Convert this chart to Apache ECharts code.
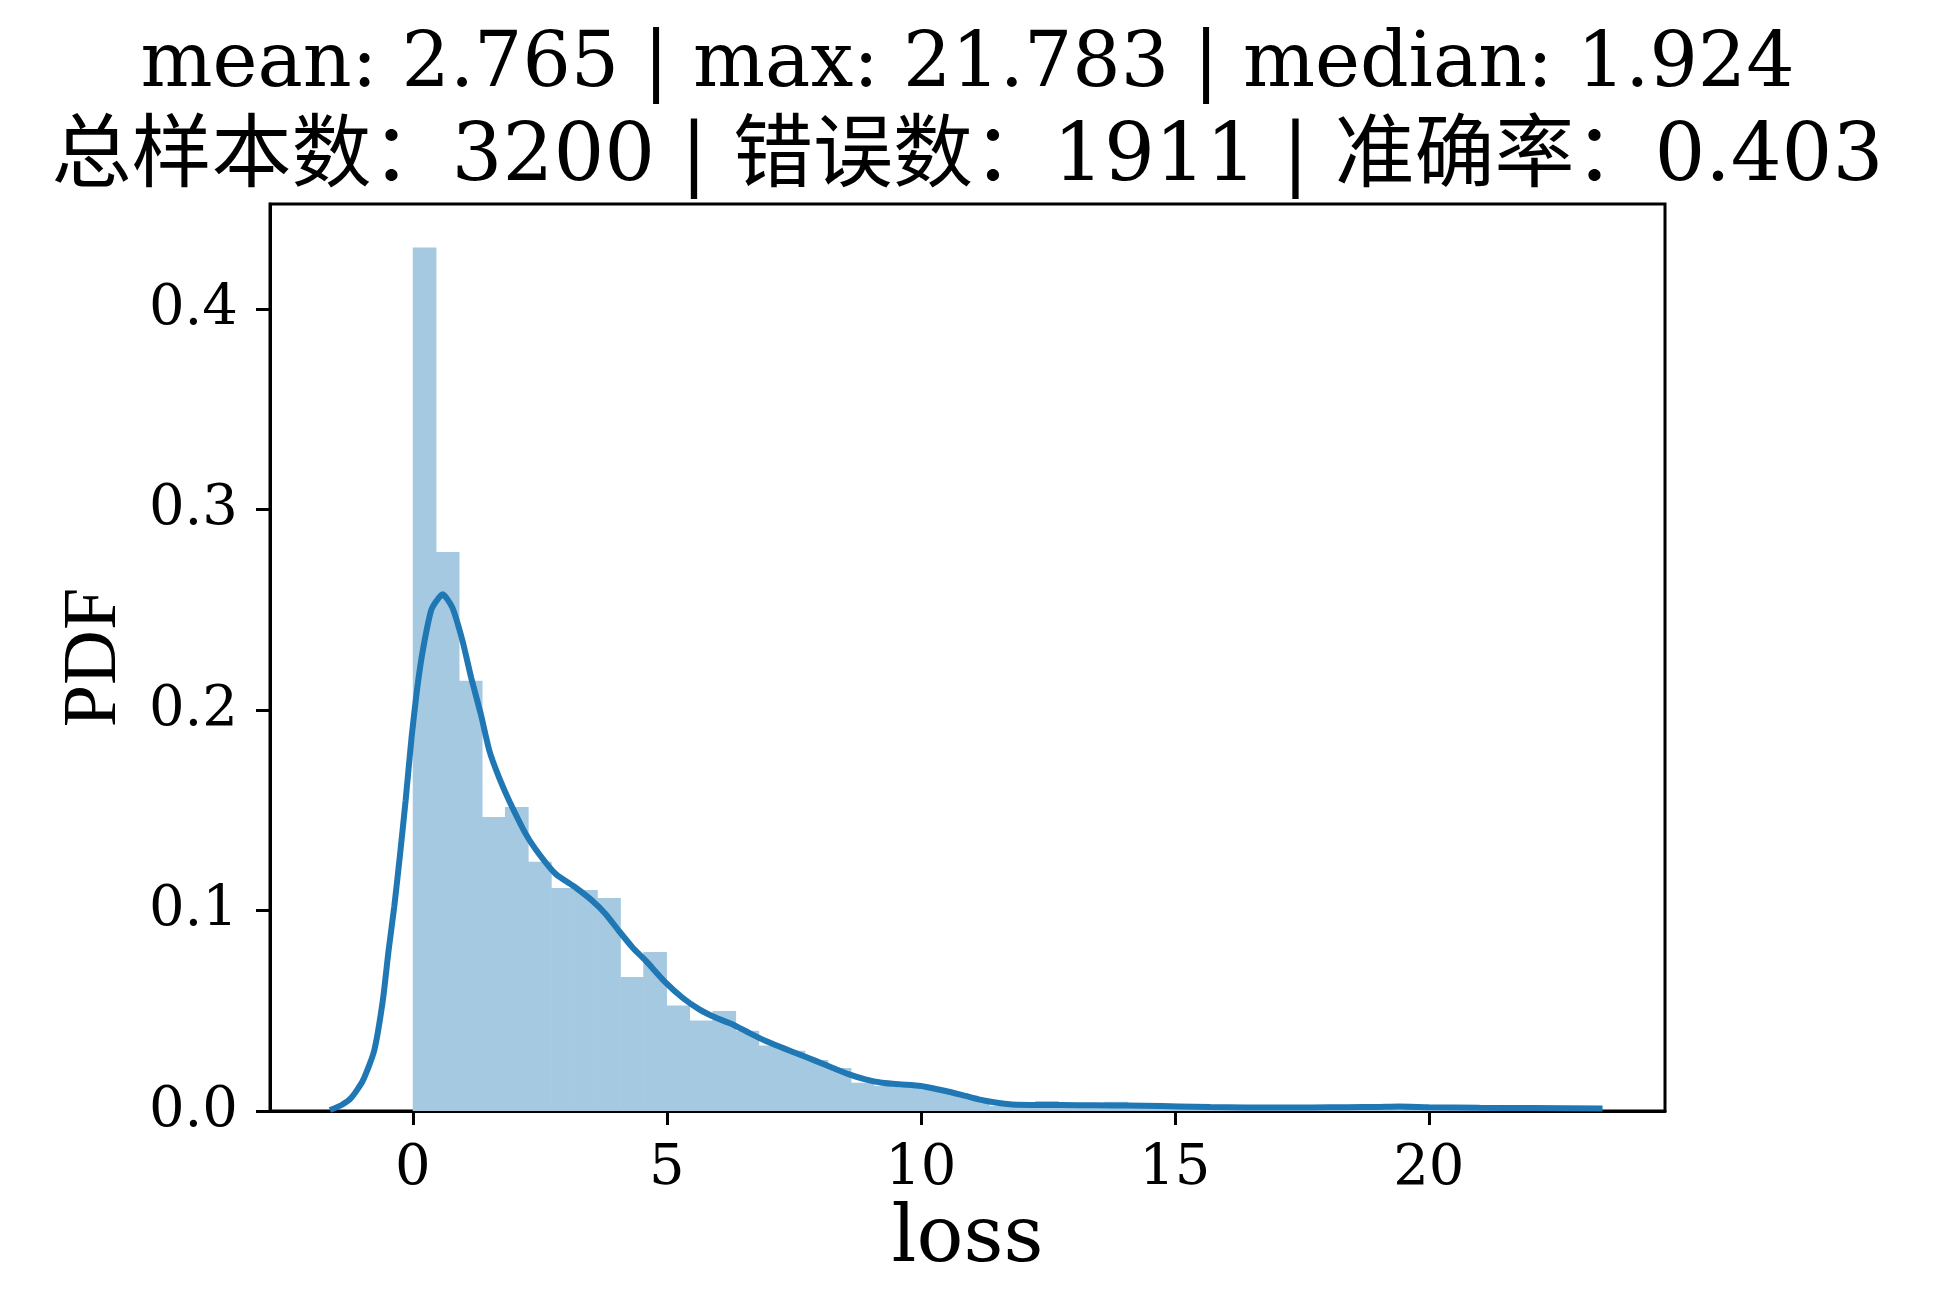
<!DOCTYPE html>
<html>
<head>
<meta charset="utf-8">
<script src="https://cdn.jsdelivr.net/npm/echarts@6/dist/echarts.min.js"></script>
<style>
html,body{margin:0;padding:0;background:#fff;}
#chart{width:1935px;height:1304px;}
</style>
</head>
<body>
<div id="chart"></div>
<script>
// ---- data ----
const titleLine1 = 'mean: 2.765 | max: 21.783 | median: 1.924';
const titleLine2 = '总样本数：3200 | 错误数：1911 | 准确率：0.403';
const xAxisName = 'loss';
const yAxisName = 'PDF';
const histMin = 0.0;
const histMax = 21.783;
const histDensity = [
  0.4308, 0.2789, 0.2146, 0.1467, 0.1517, 0.1243, 0.1113, 0.1103, 0.1063, 0.0669,
  0.0793, 0.0526, 0.0451, 0.0499, 0.0400, 0.0327, 0.0300, 0.0254, 0.0215, 0.0141,
  0.0125, 0.0118, 0.0108, 0.0090, 0.0060, 0.0025, 0.0030, 0.0050, 0.0030, 0.0030,
  0.0046, 0.0020, 0.0020, 0.0015, 0.0015, 0.0010, 0.0010, 0.0005, 0.0007, 0.0007,
  0.0007, 0.0014, 0.0014, 0.0007, 0.0007, 0.0007, 0.0007, 0.0007
];
const kdeX = [
  -1.63, -1.40, -1.21, -0.985, -0.76, -0.59, -0.476, -0.364, -0.25, -0.14,
  -0.025, 0.088, 0.20, 0.37, 0.59, 0.78, 0.98, 1.15, 1.34, 1.51,
  1.70, 1.90, 2.23, 2.49, 2.82, 3.21, 3.54, 3.80, 4.06, 4.33,
  4.59, 4.98, 5.31, 5.64, 5.96, 6.29, 6.62, 6.95, 7.27, 7.60,
  7.93, 8.26, 8.59, 8.91, 9.24, 9.57, 10.0, 10.49, 10.88, 11.14,
  11.47, 11.80, 12.45, 13.10, 13.76, 14.40, 15.08, 15.70, 16.39, 17.0,
  17.70, 18.4, 19.0, 19.4, 20.0, 21.0, 22.0, 23.42
];
const kdeY = [
  0.0005, 0.003, 0.0066, 0.015, 0.030, 0.055, 0.080, 0.102, 0.128, 0.155,
  0.186, 0.211, 0.230, 0.2503, 0.2578, 0.2511, 0.2345, 0.2162, 0.198, 0.1796,
  0.1663, 0.1547, 0.138, 0.1281, 0.1181, 0.1114, 0.1048, 0.0982, 0.0898, 0.0815,
  0.0749, 0.064, 0.0565, 0.0507, 0.0466, 0.0433, 0.039, 0.0349, 0.0316, 0.0283,
  0.025, 0.0216, 0.0183, 0.0158, 0.0141, 0.0133, 0.0125, 0.010, 0.0075, 0.0058,
  0.0042, 0.0033, 0.0030, 0.0029, 0.0028, 0.0026, 0.0023, 0.0020, 0.0018, 0.0017,
  0.0018, 0.0019, 0.0020, 0.0022, 0.0019, 0.0016, 0.0015, 0.0012
];
const xTicks = [0, 5, 10, 15, 20];
const yTicks = [0, 0.1, 0.2, 0.3, 0.4];
const xRange = [-2.81, 24.65];
const yRange = [0, 0.4525];

// ---- build ----
const nBins = histDensity.length;
const binW = (histMax - histMin) / nBins;
const histData = histDensity.map((h, i) => [histMin + i * binW, histMin + (i + 1) * binW, h]);
const kdeData = kdeX.map((x, i) => [x, kdeY[i]]);

const SERIF = "'DejaVu Serif', 'Noto Sans CJK SC', serif";
const SERIF2 = "'Liberation Serif', serif";
const BAR = '#a5c9e1';
const chart = echarts.init(document.getElementById('chart'), null, {renderer: 'canvas'});
chart.setOption({
  backgroundColor: '#ffffff',
  animation: false,
  title: [
    {text: titleLine1, left: 'center', top: 21,
     textStyle: {fontFamily: SERIF, fontSize: 76, fontWeight: 'normal', color: '#000', lineHeight: 80}},
    {text: titleLine2, left: 'center', top: 113,
     textStyle: {fontFamily: SERIF, fontSize: 80, fontWeight: 'normal', color: '#000', lineHeight: 82}}
  ],
  grid: {left: 270, right: 270, top: 204, bottom: 193, show: true,
         borderColor: '#000', borderWidth: 3, backgroundColor: 'transparent'},
  xAxis: {
    type: 'value', min: xRange[0], max: xRange[1],
    name: xAxisName, nameLocation: 'middle', nameGap: 89,
    nameTextStyle: {fontFamily: SERIF, fontSize: 78, color: '#000'},
    axisLine: {show: true, onZero: false, lineStyle: {color: '#000', width: 3}},
    axisTick: {show: true, inside: false, length: 14, lineStyle: {color: '#000', width: 3}, customValues: xTicks},
    axisLabel: {show: true, margin: 30, fontFamily: SERIF, fontSize: 56, color: '#000', customValues: xTicks,
                formatter: v => String(v)},
    splitLine: {show: false}
  },
  yAxis: {
    type: 'value', min: yRange[0], max: yRange[1],
    name: yAxisName, nameLocation: 'middle', nameGap: 137, nameRotate: 90,
    nameTextStyle: {fontFamily: SERIF2, fontSize: 76, color: '#000'},
    axisLine: {show: true, onZero: false, lineStyle: {color: '#000', width: 3}},
    axisTick: {show: true, inside: false, length: 14, lineStyle: {color: '#000', width: 3}, customValues: yTicks},
    axisLabel: {show: true, margin: 32, fontFamily: SERIF, fontSize: 56, color: '#000', customValues: yTicks,
                formatter: v => v.toFixed(1)},
    splitLine: {show: false}
  },
  series: [
    {
      type: 'custom',
      data: histData,
      z: 2,
      renderItem: function (params, api) {
        const p0 = api.coord([api.value(0), api.value(2)]);
        const p1 = api.coord([api.value(1), 0]);
        return {
          type: 'rect',
          shape: {x: p0[0], y: p0[1], width: p1[0] - p0[0] + 0.6, height: p1[1] - p0[1]},
          style: {fill: BAR, stroke: null}
        };
      }
    },
    {
      type: 'line',
      data: kdeData,
      z: 3,
      showSymbol: false,
      smooth: 0.2,
      lineStyle: {color: '#1f77b4', width: 6}
    }
  ]
});
</script>
</body>
</html>
